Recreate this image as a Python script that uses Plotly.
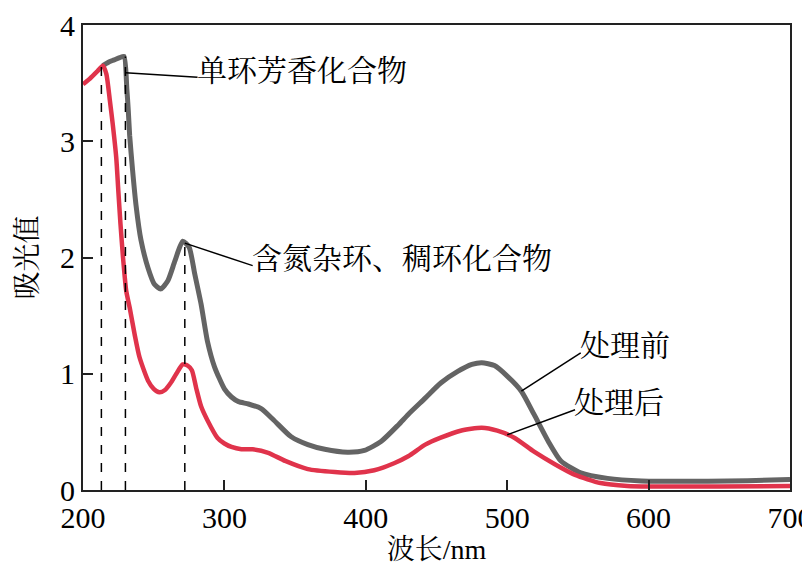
import numpy as np
import plotly.graph_objects as go

# %% data (wavelength nm, absorbance)
nm_before = [214, 218, 222, 226, 229, 231, 232, 233, 235, 237.5, 241, 246, 250.5, 255,
             260, 265, 270.5, 275, 279, 283.5, 288, 293, 300, 305, 310, 317, 326, 335,
             347, 359, 371, 387, 399, 411, 423, 430, 442, 453, 465, 475, 482, 491, 500,
             510, 519, 529, 538, 552, 571, 595, 620, 642, 670, 700]
abs_before = [3.65, 3.68, 3.70, 3.72, 3.73, 3.45, 3.27, 3.05, 2.76, 2.45, 2.15, 1.91, 1.77, 1.73,
              1.80, 1.97, 2.14, 2.09, 1.86, 1.60, 1.28, 1.06, 0.87, 0.80, 0.76, 0.74, 0.70, 0.60,
              0.46, 0.39, 0.35, 0.325, 0.34, 0.42, 0.56, 0.65, 0.79, 0.92, 1.02, 1.08, 1.095, 1.07, 0.98,
              0.85, 0.65, 0.42, 0.25, 0.147, 0.10, 0.078, 0.075, 0.075, 0.08, 0.09]

nm_after = [200, 205, 210, 214, 216.5, 219, 221, 223.5, 225, 226.5, 228.3, 230.6, 233, 236.5,
            240, 246, 250, 254, 258, 262, 266, 270.5, 274, 277, 280, 283.5, 288, 295, 300,
            305, 312, 320, 331, 343, 359, 378, 392, 406, 420, 430, 442, 453, 467, 482, 493,
            505, 519, 534, 548, 566, 585, 600, 650, 700]
abs_after = [3.49, 3.54, 3.60, 3.65, 3.58, 3.35, 3.15, 2.86, 2.57, 2.29, 2.00, 1.71, 1.57, 1.34,
             1.14, 0.94, 0.87, 0.84, 0.86, 0.92, 1.00, 1.08, 1.07, 1.03, 0.88, 0.72, 0.60, 0.45, 0.40,
             0.37, 0.35, 0.35, 0.32, 0.25, 0.18, 0.155, 0.147, 0.17, 0.23, 0.29, 0.39, 0.45, 0.51, 0.535, 0.51,
             0.45, 0.33, 0.22, 0.13, 0.06, 0.035, 0.03, 0.03, 0.035]

# peak markers (dashed drop lines)
peak_nm = [213, 230, 272]
peak_abs = [3.65, 3.73, 2.14]

# labels: text, point on curve (nm), which curve, label anchor (nm, abs)
labels = ["单环芳香化合物", "含氮杂环、稠环化合物", "处理前", "处理后"]
label_pt_nm = [230, 272, 510, 500]
label_curve = ["before", "before", "before", "after"]
label_nm = [281, 320, 552, 548]
label_abs = [3.55, 1.93, 1.18, 0.69]

GREY = "#646464"
RED = "#e0334b"
SERIF = "Liberation Serif, Noto Serif CJK SC, Noto Sans CJK SC, serif"

# %%
fig = go.Figure()
fig.add_trace(go.Scatter(x=nm_before, y=abs_before, mode="lines", name="处理前",
                         line=dict(color=GREY, width=5, shape="spline", smoothing=0.6)))
fig.add_trace(go.Scatter(x=nm_after, y=abs_after, mode="lines", name="处理后",
                         line=dict(color=RED, width=4.5, shape="spline", smoothing=0.6)))

for px_, py_ in zip(peak_nm, peak_abs):
    fig.add_shape(type="line", x0=px_, x1=px_, y0=0, y1=py_, xref="x", yref="y",
                  line=dict(color="black", width=1.5, dash="dash"))

for txt, pnm, cur, lx, ly in zip(labels, label_pt_nm, label_curve, label_nm, label_abs):
    xs, ys = (nm_before, abs_before) if cur == "before" else (nm_after, abs_after)
    py_ = float(np.interp(pnm, xs, ys))
    fig.add_shape(type="line", x0=pnm, y0=py_, x1=lx, y1=ly, xref="x", yref="y",
                  line=dict(color="black", width=1.5))
    fig.add_annotation(x=lx, y=ly, text=txt, showarrow=False, xanchor="left",
                       xshift=-3, yshift=7,
                       font=dict(family=SERIF, size=30, color="black"))

axis_common = dict(showline=True, linecolor="#222222", linewidth=2, mirror=True,
                   ticks="inside", ticklen=10, tickwidth=1.5, tickcolor="#222222",
                   showgrid=False, zeroline=False, automargin=False,
                   tickfont=dict(family=SERIF, size=30, color="black"))

fig.update_layout(
    width=810, height=562,
    margin=dict(l=75, r=28, t=17, b=80),
    plot_bgcolor="white", paper_bgcolor="white",
    showlegend=False,
    xaxis=dict(range=[200, 700], dtick=100,
               title=dict(text="波长/nm", font=dict(family=SERIF, size=28, color="black"), standoff=4),
               **axis_common),
    yaxis=dict(range=[0, 4], dtick=1,
               title=dict(text="吸光值", font=dict(family=SERIF, size=28, color="black"), standoff=14),
               **axis_common),
)

fig.write_html("out.html")
